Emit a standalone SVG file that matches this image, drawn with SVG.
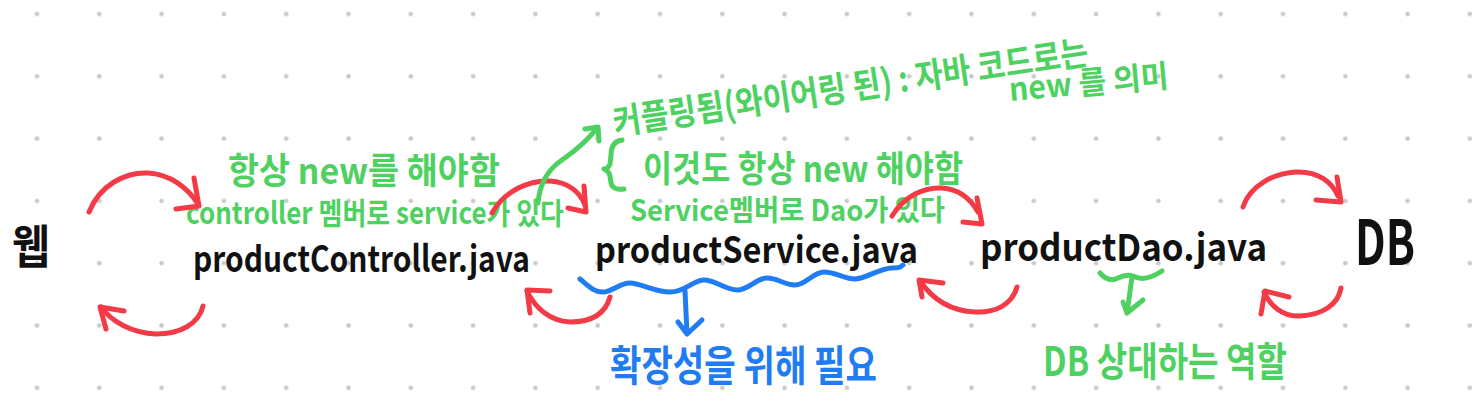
<svg xmlns="http://www.w3.org/2000/svg" width="1472" height="407" viewBox="0 0 1472 407">
<style>
.bk{fill:#111;font-family:"Noto Sans CJK KR","Noto Sans",sans-serif;font-weight:700}
.gt{fill:#4fd162;font-family:"Noto Sans CJK KR","Noto Sans",sans-serif;font-weight:700}
.bt{fill:#1f7cf2;font-family:"Noto Sans CJK KR","Noto Sans",sans-serif;font-weight:700}
.r{fill:none;stroke:#f33a47;stroke-width:5;stroke-linecap:round;stroke-linejoin:round}
.g{fill:none;stroke:#4fd162;stroke-width:5;stroke-linecap:round;stroke-linejoin:round}
.b{fill:none;stroke:#1f7cf2;stroke-width:5;stroke-linecap:round;stroke-linejoin:round}
</style>
<defs>
<pattern id="dots" patternUnits="userSpaceOnUse" x="5.85" y="-17.15" width="62.3" height="62.3">
<circle cx="31.15" cy="31.15" r="2.3" fill="#c8c8c8"/>
</pattern>
</defs>
<rect width="1472" height="407" fill="#fff"/>
<rect width="1472" height="407" fill="url(#dots)"/>

<g id="web"><text class="bk" x="12" y="263" font-size="46" textLength="38" lengthAdjust="spacingAndGlyphs">웹</text></g>
<g id="controller"><text class="bk" x="193" y="272" font-size="36" textLength="337" lengthAdjust="spacingAndGlyphs">productController.java</text></g>
<g id="service"><text class="bk" x="595" y="263" font-size="36" textLength="323" lengthAdjust="spacingAndGlyphs">productService.java</text></g>
<g id="dao"><text class="bk" x="980" y="261" font-size="37" textLength="287" lengthAdjust="spacingAndGlyphs">productDao.java</text></g>
<g id="db"><text class="bk" x="1355" y="265" font-size="62" textLength="60" lengthAdjust="spacingAndGlyphs">DB</text></g>

<g id="notes">
<text class="gt" x="228" y="184" font-size="36" textLength="272" lengthAdjust="spacingAndGlyphs">항상 new를 해야함</text>
<text class="gt" x="186" y="224" font-size="30" textLength="378" lengthAdjust="spacingAndGlyphs">controller 멤버로 service가 있다</text>
<text class="gt" x="615" y="135" font-size="35" textLength="480" lengthAdjust="spacingAndGlyphs" transform="rotate(-8.5 615 135)">커플링됨(와이어링 된) : 자바 코드로는</text>
<text class="gt" x="1010" y="101" font-size="32" textLength="160" lengthAdjust="spacingAndGlyphs" transform="rotate(-5 1010 101)">new 를 의미</text>
<text class="gt" x="643" y="182" font-size="36" textLength="320" lengthAdjust="spacingAndGlyphs">이것도 항상 new 해야함</text>
<text class="gt" x="630" y="221" font-size="29" textLength="315" lengthAdjust="spacingAndGlyphs">Service멤버로 Dao가 있다</text>
<text class="bt" x="610" y="381" font-size="42" textLength="267" lengthAdjust="spacingAndGlyphs">확장성을 위해 필요</text>
<text class="gt" x="1043" y="376" font-size="40" textLength="244" lengthAdjust="spacingAndGlyphs">DB 상대하는 역할</text>
</g>

<g id="connectors">
<path class="r" d="M89,212 C100,185 125,172 148,173 C170,174 188,188 198,204"/>
<path class="r" d="M194,178 L199,206 L176,209"/>
<path class="r" d="M203,306 C199,324 180,334 156,334 C132,333 112,322 101,307"/>
<path class="r" d="M124,311 L100,307 L106,329"/>
<path class="r" d="M492,213 C505,190 530,180 550,181 C568,182 580,192 585,205"/>
<path class="r" d="M584,186 L586,212 L568,208"/>
<path class="r" d="M610,297 C605,315 590,322 570,322 C550,321 535,308 527,291"/>
<path class="r" d="M550,291 L527,290 L530,313"/>
<path class="r" d="M892,216 C905,195 925,187 942,188 C958,189 970,198 978,212"/>
<path class="r" d="M977,198 L982,224 L963,222"/>
<path class="r" d="M1017,287 C1012,305 995,313 975,312 C952,311 933,300 920,281"/>
<path class="r" d="M943,283 L919,280 L922,297"/>
<path class="r" d="M1243,207 C1250,185 1275,173 1296,172 C1318,171 1332,182 1338,196"/>
<path class="r" d="M1337,177 L1341,202 L1316,200"/>
<path class="r" d="M1341,288 C1338,305 1322,315 1300,316 C1282,317 1270,305 1264,292"/>
<path class="r" d="M1289,297 L1265,291 L1261,314"/>

<path class="b" d="M580,279 C588,286 595,293 604,292 S620,283 630,283 S655,292 670,292 S692,281 703,280 S725,290 737,290 S756,278 767,278 S784,285 795,285 S813,272 824,272 S845,279 855,279 S880,268 892,268 S900,266 903,265"/>
<path class="b" d="M685,291 L687,333"/>
<path class="b" d="M678,322 L687,334 L702,320"/>

<path class="g" d="M1100,273 C1106,280 1112,281 1118,278 C1124,275 1128,274 1133,276 C1140,280 1150,279 1162,271"/>
<path class="g" d="M1132,277 L1127,313"/>
<path class="g" d="M1123,302 L1127,313 L1143,300"/>

<path class="g" d="M538,203 C540,180 550,168 562,160 C575,151 588,140 597,128"/>
<path class="g" d="M585,129 L598,127 L599,141"/>
<path class="g" d="M622,140 C614,141 611,147 611,155 L610,164 Q609,168 604,169 Q609,171 610,176 L611,183 C612,188 617,190 624,189"/>
</g>
</svg>
